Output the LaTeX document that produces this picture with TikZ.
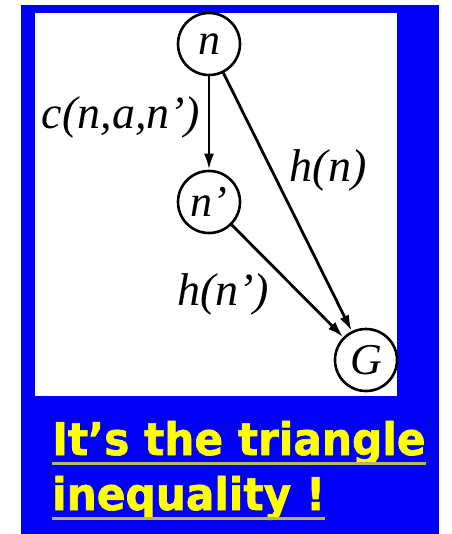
\documentclass[tikz,border=0pt]{standalone}
\usepackage{fontspec}
\setmainfont{Liberation Serif}
\newfontfamily\titlefont[FakeStretch=0.94,FakeBold=1.4]{DejaVu Sans}
\usetikzlibrary{arrows.meta}
\definecolor{bgblue}{RGB}{0,0,246}
\definecolor{ttyellow}{RGB}{255,255,0}
\definecolor{ulcol}{RGB}{190,180,90}
\begin{document}
\begin{tikzpicture}[x=1pt,y=-1pt,
  state/.style={circle,draw,line width=2.6pt,minimum size=62pt,inner sep=0pt,font=\fontsize{44}{44}\selectfont\itshape},
  edge/.style={line width=2.8pt,-{Latex[length=16pt,width=10pt]}},
  lbl/.style={font=\fontsize{46}{46}\selectfont\itshape,inner sep=0pt},
  ttl/.style={font=\titlefont\bfseries\fontsize{45}{45}\selectfont,text=ttyellow,anchor=base west,inner sep=0pt},
  uline/.style={draw=ulcol,line width=3pt}]
\useasboundingbox (0,0) rectangle (451,534);
\fill[white] (0,0) rectangle (451,534);
\fill[bgblue] (21,5) rectangle (439,534);
\fill[white] (35,13) rectangle (397,396);
\node[state] (n) at (209,44) {n};
\node[state] (np) at (209,202) {n’};
\node[state] (G) at (366,360) {G};
\draw[edge] (n) -- (np);
\draw[edge] (n) -- (G);
\draw[edge] (np) -- (G);
\node[lbl] (l1) at (121,117) {c(n,a,n’)};
\node[lbl] (l2) at (328,170) {h(n)};
\node[lbl] (l3) at (223,294) {h(n’)};
\node[ttl] (t1) at (52,455) {It’s the triangle};
\node[ttl] (t2) at (52,510) {inequality !};
\draw[uline] ([yshift=-8pt]t1.base west) -- ([yshift=-8pt]t1.base east);
\draw[uline] ([yshift=-8pt]t2.base west) -- ([yshift=-8pt]t2.base east);
\end{tikzpicture}
\end{document}
